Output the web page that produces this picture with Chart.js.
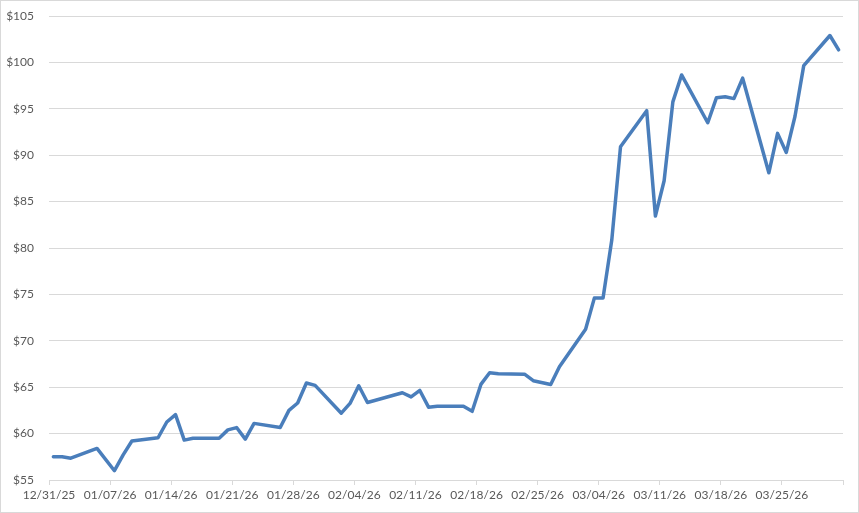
<!DOCTYPE html>
<html>
<head>
<meta charset="utf-8">
<title>Price chart</title>
<script src="https://cdn.jsdelivr.net/npm/chart.js@4.4.1/dist/chart.umd.min.js"></script>
<style>
  html, body { margin: 0; padding: 0; background: #fff; }
  #wrap { width: 859px; height: 513px; }
</style>
</head>
<body>
<div id="wrap"><canvas id="chart" width="859" height="513"></canvas></div>
<script>
/* ---- Data ---- */
const DATES = [
  "12/31/25","01/01/26","01/02/26","01/05/26","01/07/26","01/08/26","01/09/26",
  "01/12/26","01/13/26","01/14/26","01/15/26","01/16/26","01/19/26","01/20/26",
  "01/21/26","01/22/26","01/23/26","01/26/26","01/27/26","01/28/26","01/29/26",
  "01/30/26","02/02/26","02/03/26","02/04/26","02/05/26","02/09/26","02/10/26",
  "02/11/26","02/12/26","02/13/26","02/16/26","02/17/26","02/18/26","02/19/26",
  "02/20/26","02/23/26","02/24/26","02/26/26","02/27/26","03/02/26","03/03/26",
  "03/04/26","03/05/26","03/06/26","03/09/26","03/10/26","03/11/26","03/12/26",
  "03/13/26","03/16/26","03/17/26","03/18/26","03/19/26","03/20/26","03/23/26",
  "03/24/26","03/25/26","03/26/26","03/27/26","03/30/26","03/31/26"
];
const PRICES = [
  57.5, 57.5, 57.35, 58.4, 56.0, 57.7, 59.2,
  59.55, 61.25, 62.05, 59.3, 59.5, 59.5, 60.4,
  60.65, 59.4, 61.1, 60.65, 62.5, 63.3, 65.45,
  65.2, 62.2, 63.25, 65.15, 63.35, 64.4, 63.95,
  64.65, 62.85, 62.95, 62.95, 62.4, 65.3, 66.55,
  66.45, 66.4, 65.7, 65.3, 67.2, 71.25, 74.6,
  74.6, 80.85, 90.9, 94.8, 83.45, 87.25, 95.75,
  98.65, 93.5, 96.2, 96.3, 96.1, 98.3, 88.1,
  92.35, 90.3, 94.2, 99.65, 102.9, 101.35
];
const AXIS_START = "12/31/25";
const AXIS_DAYS = 91;          // 12/31/25 .. 03/31/26, one slot per day
const TICK_EVERY = 7;
const Y_MIN = 55, Y_MAX = 105, Y_STEP = 5;

/* ---- Date helpers ---- */
function parseDate(s) {
  const [m, d, y] = s.split("/").map(Number);
  return Date.UTC(2000 + y, m - 1, d);
}
const DAY_MS = 86400000;
const start = parseDate(AXIS_START);
const dayIndex = s => Math.round((parseDate(s) - start) / DAY_MS);
function labelFor(idx) {
  const d = new Date(start + idx * DAY_MS);
  const mm = String(d.getUTCMonth() + 1).padStart(2, "0");
  const dd = String(d.getUTCDate()).padStart(2, "0");
  const yy = String(d.getUTCFullYear() % 100).padStart(2, "0");
  return `${mm}/${dd}/${yy}`;
}

const points = DATES.map((d, i) => ({ x: dayIndex(d), y: PRICES[i] }));

/* ---- Chart ---- */
const GRID = "#d9d9d9";
const TEXT = "#595959";
const FONT = { family: "Lato, 'Open Sans', sans-serif", size: 12 };

const frame = {
  id: "frame",
  beforeDraw(chart) {
    const c = chart.ctx;
    c.save();
    c.fillStyle = "#fff";
    c.fillRect(0, 0, chart.width, chart.height);
    c.restore();
  },
  afterDraw(chart) {
    const c = chart.ctx;
    c.save();
    c.strokeStyle = GRID;
    c.lineWidth = 1;
    c.strokeRect(0.5, 0.5, chart.width - 1, chart.height - 1);
    c.restore();
  }
};

new Chart(document.getElementById("chart"), {
  type: "line",
  data: {
    datasets: [{
      data: points,
      borderColor: "#4a7ebb",
      borderWidth: 3.5,
      borderJoinStyle: "round",
      borderCapStyle: "round",
      pointRadius: 0,
      tension: 0,
      fill: false
    }]
  },
  options: {
    responsive: false,
    devicePixelRatio: 1,
    animation: false,
    layout: { padding: { left: 0, right: 16, top: 16, bottom: 0 } },
    plugins: { legend: { display: false }, tooltip: { enabled: false } },
    scales: {
      x: {
        type: "linear",
        min: -0.5,
        max: AXIS_DAYS - 0.5,
        afterBuildTicks: scale => {
          const t = [];
          for (let k = 0; k <= AXIS_DAYS; k += TICK_EVERY) t.push({ value: k - 0.5 });
          scale.ticks = t;
        },
        afterFit: scale => { scale.height = 33; },
        ticks: {
          autoSkip: false,
          maxRotation: 0,
          padding: 3,
          color: TEXT,
          font: FONT,
          callback: v => {
            const idx = Math.round(v + 0.5);
            return idx >= AXIS_DAYS ? "" : labelFor(idx);
          }
        },
        grid: { drawOnChartArea: false, drawTicks: true, tickLength: 5, color: GRID },
        border: { display: true, color: GRID }
      },
      y: {
        min: Y_MIN,
        max: Y_MAX,
        afterFit: scale => { scale.width = 49; },
        ticks: {
          stepSize: Y_STEP,
          padding: 3,
          color: TEXT,
          font: FONT,
          callback: v => "$" + v
        },
        grid: { color: GRID, drawTicks: true, tickLength: 12, tickColor: "rgba(0,0,0,0)" },
        border: { display: false }
      }
    }
  },
  plugins: [frame]
});
</script>
</body>
</html>
